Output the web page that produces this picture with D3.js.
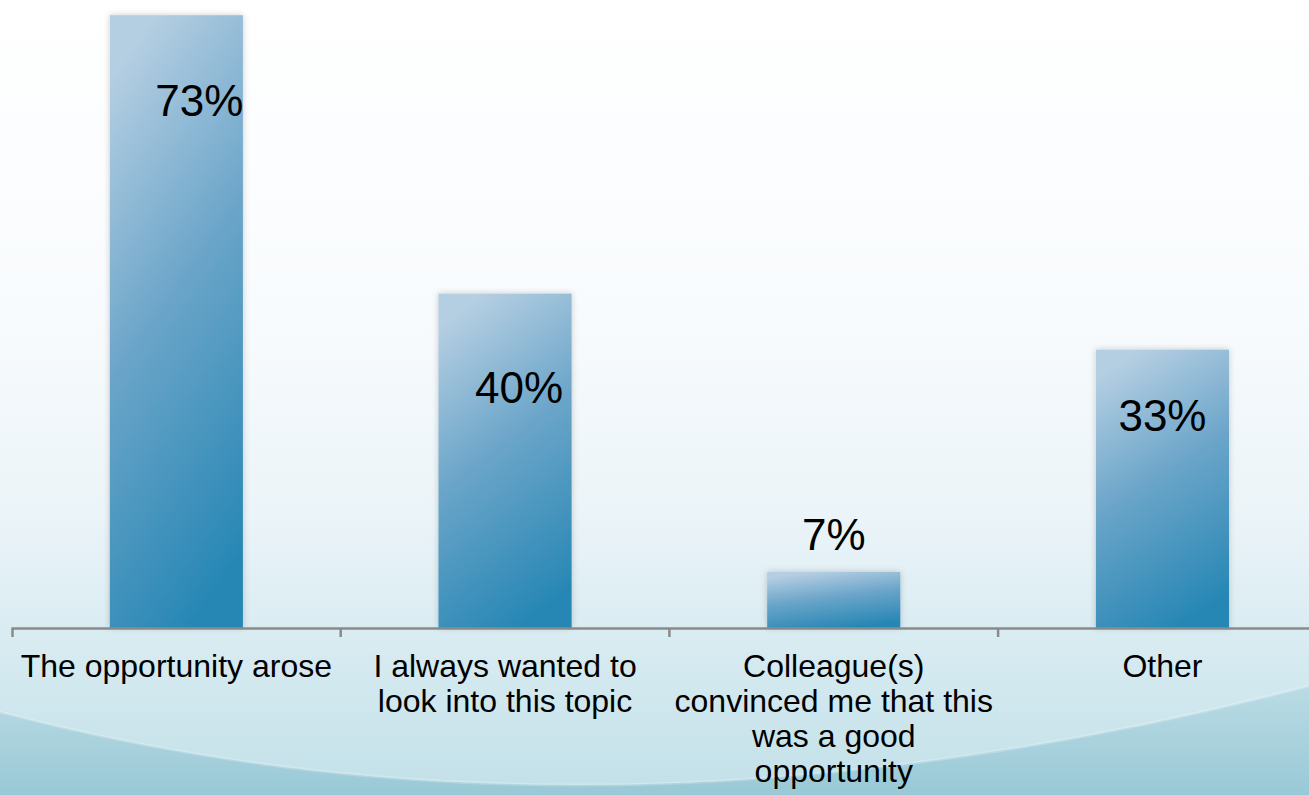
<!DOCTYPE html>
<html lang="en">
<head>
  <meta charset="UTF-8">
  <title>Reasons</title>
  <script src="https://cdn.jsdelivr.net/npm/d3@7"></script>
  <style>
    html, body { margin: 0; padding: 0; overflow: hidden; }
    svg { display: block; font-family: "Liberation Sans", Arial, sans-serif; }
    .axis path, .axis line { stroke: #8a8a8a; stroke-width: 2.5px; fill: none; }
    .cat { font-size: 32px; fill: #000; text-anchor: middle; }
    .val { font-size: 44px; fill: #000; text-anchor: middle; }
  </style>
</head>
<body>
<script>
  // data
  const categories = [
    'The opportunity arose',
    'I always wanted to look into this topic',
    'Colleague(s) convinced me that this was a good opportunity',
    'Other'
  ]
  const values = [73.3, 40.0, 6.7, 33.3]
  const yDomain = [0, 75]
  // hand-placed value labels in the original (offset from bar top / centre)
  const labelDx = [23, 14, 0, 0]
  const labelDy = [101, 109, -22, 81]

  const width = 1309
  const height = 795
  const baseY = 628

  const svg = d3.select('body').append('svg')
    .attr('width', width)
    .attr('height', height)

  const defs = svg.append('defs')

  // background
  const bg = defs.append('linearGradient').attr('id', 'bg')
    .attr('x1', 0).attr('y1', 0).attr('x2', 0).attr('y2', 1)
  bg.append('stop').attr('offset', 0).attr('stop-color', '#ffffff')
  bg.append('stop').attr('offset', 0.4).attr('stop-color', '#f8fbfd')
  bg.append('stop').attr('offset', 0.65).attr('stop-color', '#ebf4f8')
  bg.append('stop').attr('offset', 0.8).attr('stop-color', '#d9ecf2')
  bg.append('stop').attr('offset', 1).attr('stop-color', '#c2e0e8')

  const wave = defs.append('linearGradient').attr('id', 'wave')
    .attr('x1', 0).attr('y1', 0).attr('x2', 0).attr('y2', 1)
  wave.append('stop').attr('offset', 0).attr('stop-color', '#b4d8e2')
  wave.append('stop').attr('offset', 1).attr('stop-color', '#8ec3d1')

  const barGrad = defs.append('linearGradient').attr('id', 'barGrad')
    .attr('x1', 0.35).attr('y1', 0).attr('x2', 0.65).attr('y2', 1)
  barGrad.append('stop').attr('offset', 0).attr('stop-color', '#b4cee2')
  barGrad.append('stop').attr('offset', 0.45).attr('stop-color', '#6ba5c9')
  barGrad.append('stop').attr('offset', 1).attr('stop-color', '#2586b4')

  const shadow = defs.append('filter').attr('id', 'shadow')
    .attr('x', '-20%').attr('y', '-20%').attr('width', '140%').attr('height', '140%')
  shadow.append('feDropShadow')
    .attr('dx', 0).attr('dy', 0).attr('stdDeviation', 3)
    .attr('flood-color', '#000').attr('flood-opacity', 0.2)

  svg.append('rect')
    .attr('width', width).attr('height', height)
    .attr('fill', 'url(#bg)')

  // swoosh at the bottom
  const swoosh = `M0,712 Q600,870 ${width},686`
  svg.append('path')
    .attr('d', `${swoosh} L${width},${height} L0,${height} Z`)
    .attr('fill', 'url(#wave)')
    .attr('opacity', 0.8)
  svg.append('path')
    .attr('d', swoosh)
    .attr('fill', 'none')
    .attr('stroke', '#ffffff')
    .attr('stroke-opacity', 0.2)
    .attr('stroke-width', 3)

  // scales
  const x = d3.scaleBand()
    .domain(categories)
    .range([12, 12 + 4 * 328.7])
    .paddingInner(0.595)
    .paddingOuter(0.2975)

  const y = d3.scaleLinear()
    .domain(yDomain)
    .range([baseY, 1])

  // bars
  svg.selectAll('.bar')
    .data(values)
    .enter()
    .append('rect')
    .attr('class', 'bar')
    .attr('x', (d, i) => x(categories[i]))
    .attr('y', d => y(d))
    .attr('width', x.bandwidth())
    .attr('height', d => baseY - y(d))
    .attr('fill', 'url(#barGrad)')
    .attr('filter', 'url(#shadow)')

  // axis
  const xAxis = d3.axisBottom(x)
    .tickSizeInner(0)
    .tickSizeOuter(9)
    .tickFormat('')
  const gx = svg.append('g')
    .attr('class', 'axis')
    .attr('transform', `translate(0,${baseY})`)
    .call(xAxis)

  // category boundary ticks
  const half = x.step() * x.paddingInner() / 2
  gx.selectAll('.sep')
    .data(categories.slice(1))
    .enter()
    .append('line')
    .attr('x1', d => x(d) - half)
    .attr('x2', d => x(d) - half)
    .attr('y1', 0)
    .attr('y2', 9)

  // category labels, wrapped
  const maxW = x.step() - 4
  categories.forEach((c, i) => {
    const cx = x(c) + x.bandwidth() / 2
    const t = svg.append('text')
      .attr('class', 'cat')
      .attr('x', cx)
      .attr('y', 677)
    let line = []
    let tspan = t.append('tspan').attr('x', cx).attr('dy', 0)
    c.split(' ').forEach(w => {
      line.push(w)
      tspan.text(line.join(' '))
      if (tspan.node().getComputedTextLength() > maxW && line.length > 1) {
        line.pop()
        tspan.text(line.join(' '))
        line = [w]
        tspan = t.append('tspan')
          .attr('x', cx)
          .attr('dy', 35)
          .text(w)
      }
    })
  })

  // value labels
  svg.selectAll('.val')
    .data(values)
    .enter()
    .append('text')
    .attr('class', 'val')
    .attr('x', (d, i) => x(categories[i]) + x.bandwidth() / 2 + labelDx[i])
    .attr('y', (d, i) => y(d) + labelDy[i])
    .text(d => Math.round(d) + '%')
</script>
</body>
</html>
